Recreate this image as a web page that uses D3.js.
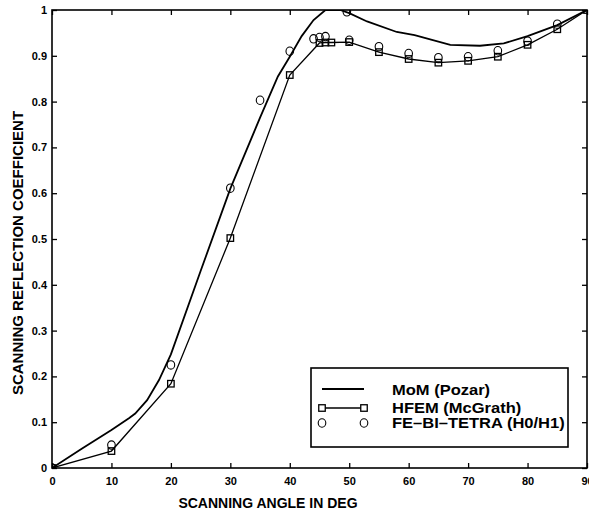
<!DOCTYPE html>
<html>
<head>
<meta charset="utf-8">
<script src="https://cdn.jsdelivr.net/npm/d3@7"></script>
<style>
  html, body { margin: 0; padding: 0; background: #fff; }
  svg { display: block; }
</style>
</head>
<body>
<div id="chart"></div>
<script>
// data
const momAngle = [0, 5, 10, 13, 14, 16, 18, 20, 25, 30, 35, 36, 38, 40, 42, 44, 46, 48.5, 50, 53, 58, 61, 67, 72, 76, 80, 85, 90];
const momValue = [0, 0.042, 0.083, 0.109, 0.119, 0.148, 0.192, 0.248, 0.43, 0.61, 0.765, 0.795, 0.855, 0.898, 0.943, 0.978, 1.0, 1.0, 0.993, 0.975, 0.952, 0.945, 0.924, 0.922, 0.927, 0.943, 0.967, 1.0];

const hfemAngle = [0, 10, 20, 30, 40, 45, 46, 47, 50, 55, 60, 65, 70, 75, 80, 85, 90];
const hfemValue = [0, 0.037, 0.184, 0.502, 0.858, 0.928, 0.929, 0.929, 0.93, 0.908, 0.893, 0.885, 0.889, 0.898, 0.924, 0.958, 1.0];

const febiAngle = [0, 10, 20, 30, 35, 40, 44, 45, 46, 49.6, 50, 55, 60, 65, 70, 75, 80, 85];
const febiValue = [0, 0.05, 0.225, 0.611, 0.803, 0.91, 0.937, 0.94, 0.942, 0.996, 0.934, 0.92, 0.905, 0.896, 0.898, 0.911, 0.932, 0.969];

const xTicks = [0, 10, 20, 30, 40, 50, 60, 70, 80, 90];
const yTicks = [0, 0.1, 0.2, 0.3, 0.4, 0.5, 0.6, 0.7, 0.8, 0.9, 1];

const legendLabels = ["MoM (Pozar)", "HFEM (McGrath)", "FE\u2013BI\u2013TETRA (H0/H1)"];

// 1) layout
const width = 589;
const height = 512;
const margin = { top: 10, right: 2, bottom: 44, left: 52 };
const font = "'Liberation Sans', Arial, Helvetica, sans-serif";

const svg = d3.select("#chart")
  .append("svg")
  .attr("width", width)
  .attr("height", height)
  .style("background", "#fff");

// 2) scales
const x = d3.scaleLinear().domain([0, 90]).range([margin.left, width - margin.right]);
const y = d3.scaleLinear().domain([0, 1]).range([height - margin.bottom, margin.top]);

svg.append("clipPath").attr("id", "plot-clip")
  .append("rect")
  .attr("x", x(0)).attr("y", y(1))
  .attr("width", x(90) - x(0)).attr("height", y(0) - y(1));

// 3) axes, ticks pointing inward on all four sides
const tickLen = 5;
const styleAxis = (g) => {
  g.select(".domain").remove();
  g.selectAll(".tick line").attr("stroke", "#000").attr("stroke-width", 1.3);
  g.selectAll("text")
    .attr("fill", "#000")
    .style("font-family", font)
    .style("font-size", "11px")
    .style("font-weight", "bold");
};

svg.append("g")
  .attr("transform", `translate(0,${y(0)})`)
  .call(d3.axisBottom(x).tickValues(xTicks).tickFormat(d3.format("d")).tickSizeInner(-tickLen).tickSizeOuter(0).tickPadding(9))
  .call(styleAxis);

svg.append("g")
  .attr("transform", `translate(0,${y(1)})`)
  .call(d3.axisTop(x).tickValues(xTicks).tickFormat("").tickSizeInner(-tickLen).tickSizeOuter(0))
  .call(styleAxis);

svg.append("g")
  .attr("transform", `translate(${x(0)},0)`)
  .call(d3.axisLeft(y).tickValues(yTicks).tickFormat((d) => (d === 0 || d === 1 ? d3.format("d")(d) : d3.format(".1f")(d))).tickSizeInner(-tickLen).tickSizeOuter(0).tickPadding(5))
  .call(styleAxis);

svg.append("g")
  .attr("transform", `translate(${x(90)},0)`)
  .call(d3.axisRight(y).tickValues(yTicks).tickFormat("").tickSizeInner(-tickLen).tickSizeOuter(0))
  .call(styleAxis);

// frame
svg.append("rect")
  .attr("x", x(0)).attr("y", y(1))
  .attr("width", x(90) - x(0)).attr("height", y(0) - y(1))
  .attr("fill", "none")
  .attr("stroke", "#000")
  .attr("stroke-width", 1.6);

// 4) axis titles
svg.append("text")
  .attr("x", 268)
  .attr("y", 508)
  .attr("text-anchor", "middle")
  .style("font-family", font)
  .style("font-size", "14px")
  .style("font-weight", "bold")
  .text("SCANNING ANGLE IN DEG");

svg.append("text")
  .attr("transform", "translate(23,253) rotate(-90)")
  .attr("text-anchor", "middle")
  .style("font-family", font)
  .style("font-size", "15px")
  .style("font-weight", "bold")
  .text("SCANNING REFLECTION COEFFICIENT");

// 5) series
const plot = svg.append("g").attr("clip-path", "url(#plot-clip)");

const line = d3.line().x((d) => x(d[0])).y((d) => y(d[1]));

const mom = momAngle.map((a, i) => [a, momValue[i]]);
const hfem = hfemAngle.map((a, i) => [a, hfemValue[i]]);
const febi = febiAngle.map((a, i) => [a, febiValue[i]]);

plot.append("path")
  .datum(mom)
  .attr("d", line)
  .attr("fill", "none")
  .attr("stroke", "#000")
  .attr("stroke-width", 1.8);

plot.append("path")
  .datum(hfem)
  .attr("d", line)
  .attr("fill", "none")
  .attr("stroke", "#000")
  .attr("stroke-width", 1.3);

const sq = 6.5;
plot.selectAll(".sq")
  .data(hfem)
  .enter()
  .append("rect")
  .attr("class", "sq")
  .attr("x", (d) => x(d[0]) - sq / 2)
  .attr("y", (d) => y(d[1]) - sq / 2)
  .attr("width", sq)
  .attr("height", sq)
  .attr("fill", "none")
  .attr("stroke", "#000")
  .attr("stroke-width", 1.3);

plot.selectAll(".circ")
  .data(febi)
  .enter()
  .append("ellipse")
  .attr("class", "circ")
  .attr("cx", (d) => x(d[0]))
  .attr("cy", (d) => y(d[1]))
  .attr("rx", 3.8)
  .attr("ry", 4.2)
  .attr("fill", "none")
  .attr("stroke", "#000")
  .attr("stroke-width", 1.1);

// 6) legend
const legend = svg.append("g");
legend.append("rect")
  .attr("x", 311).attr("y", 368)
  .attr("width", 257).attr("height", 79)
  .attr("fill", "#fff")
  .attr("stroke", "#000")
  .attr("stroke-width", 1.6);

const rowY = [389, 408, 423];
const sampleX = [322, 364];

legend.append("line")
  .attr("x1", sampleX[0]).attr("x2", sampleX[1])
  .attr("y1", rowY[0]).attr("y2", rowY[0])
  .attr("stroke", "#000").attr("stroke-width", 1.8);

legend.append("line")
  .attr("x1", sampleX[0]).attr("x2", sampleX[1])
  .attr("y1", rowY[1]).attr("y2", rowY[1])
  .attr("stroke", "#000").attr("stroke-width", 1.3);

sampleX.forEach((sx) => {
  legend.append("rect")
    .attr("x", sx - sq / 2).attr("y", rowY[1] - sq / 2)
    .attr("width", sq).attr("height", sq)
    .attr("fill", "#fff").attr("stroke", "#000").attr("stroke-width", 1.3);
  legend.append("ellipse")
    .attr("cx", sx).attr("cy", rowY[2])
    .attr("rx", 3.8).attr("ry", 4.2)
    .attr("fill", "none").attr("stroke", "#000").attr("stroke-width", 1.1);
});

// the printed legend font is wider than Arial, so stretch it a bit
const textBase = [395, 412.5, 427.5];
legend.selectAll(".lab")
  .data(legendLabels)
  .enter()
  .append("text")
  .attr("class", "lab")
  .attr("transform", (d, i) => `translate(392,${textBase[i]}) scale(1.18,1)`)
  .style("font-family", font)
  .style("font-size", "14px")
  .style("font-weight", "bold")
  .text((d) => d);
</script>
</body>
</html>
